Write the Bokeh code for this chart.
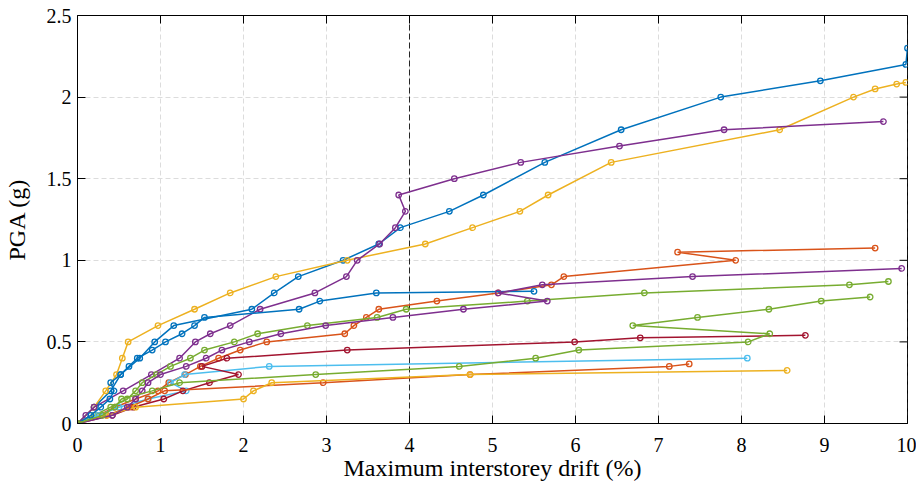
import math
from bokeh.plotting import figure
from bokeh.models import FixedTicker, Span, CustomJSTickFormatter, Range1d
from bokeh.embed import file_html
from bokeh.resources import INLINE

# ---- data (IDA curves: max interstorey drift [%] vs PGA [g]) ----
x_ticks = [0, 1, 2, 3, 4, 5, 6, 7, 8, 9, 10]
y_ticks = [0, 0.5, 1, 1.5, 2, 2.5]
limit_lines = [4, 10]
x_max = 10
y_max = 2.5

blue1_x = [0, 0.2, 0.4, 0.52, 0.75, 0.93, 1.16, 2.1, 2.37, 2.66, 3.2, 3.63, 3.89, 4.48, 4.89, 5.63, 6.55, 7.75, 8.95, 9.98, 10.0]
blue1_y = [0, 0.1, 0.2, 0.3, 0.4, 0.5, 0.6, 0.7, 0.8, 0.9, 1.0, 1.1, 1.2, 1.3, 1.4, 1.6, 1.8, 2.0, 2.1, 2.2, 2.3]

orange1_x = [0, 0.25, 0.45, 0.7, 0.97, 1.1, 1.3, 1.48, 1.7, 1.96, 2.28, 3.22, 3.33, 3.48, 3.63, 4.33, 5.07, 5.71, 5.86, 7.93, 7.23, 9.61]
orange1_y = [0, 0.05, 0.1, 0.15, 0.2, 0.25, 0.3, 0.35, 0.4, 0.45, 0.5, 0.55, 0.6, 0.65, 0.7, 0.75, 0.8, 0.85, 0.9, 1.0, 1.05, 1.075]

yellow1_x = [0, 0.2, 0.34, 0.47, 0.54, 0.61, 0.97, 1.41, 1.84, 2.39, 3.25, 4.19, 4.76, 5.33, 5.67, 6.43, 8.46, 9.35, 9.61, 9.87, 9.98]
yellow1_y = [0, 0.1, 0.2, 0.3, 0.4, 0.5, 0.6, 0.7, 0.8, 0.9, 1.0, 1.1, 1.2, 1.3, 1.4, 1.6, 1.8, 2.0, 2.05, 2.08, 2.09]

purple1_x = [0, 0.1, 0.2, 0.55, 0.89, 1.23, 1.42, 1.6, 1.84, 2.2, 2.86, 3.24, 3.37, 3.64, 3.83, 3.95, 3.87, 4.54, 5.34, 6.53, 7.79, 9.71]
purple1_y = [0, 0.05, 0.1, 0.2, 0.3, 0.4, 0.5, 0.55, 0.6, 0.7, 0.8, 0.9, 1.0, 1.1, 1.2, 1.3, 1.4, 1.5, 1.6, 1.7, 1.8, 1.85]

green1_x = [0, 0.2, 0.4, 0.6, 0.7, 0.78, 0.95, 1.12, 1.36, 1.53, 1.89, 2.17, 2.77, 3.61, 3.96, 5.42, 6.83, 9.3, 9.77]
green1_y = [0, 0.05, 0.1, 0.15, 0.2, 0.25, 0.3, 0.35, 0.4, 0.45, 0.5, 0.55, 0.6, 0.65, 0.7, 0.75, 0.8, 0.85, 0.87]

lightblue_x = [0, 0.25, 0.5, 0.85, 1.31, 1.12, 1.29, 2.31, 8.07]
lightblue_y = [0, 0.05, 0.1, 0.15, 0.2, 0.25, 0.3, 0.35, 0.4]

darkred_x = [0, 0.42, 0.67, 1.04, 1.27, 1.59, 1.94, 1.5, 1.8, 3.25, 5.99, 6.78, 8.77]
darkred_y = [0, 0.05, 0.1, 0.15, 0.2, 0.25, 0.3, 0.35, 0.4, 0.45, 0.5, 0.525, 0.54]

blue2_x = [0, 0.16, 0.28, 0.39, 0.44, 0.4, 0.52, 0.62, 0.72, 0.9, 1.06, 1.26, 1.41, 1.53, 2.67, 2.92, 3.6, 5.5]
blue2_y = [0, 0.05, 0.1, 0.15, 0.2, 0.25, 0.3, 0.35, 0.4, 0.45, 0.5, 0.55, 0.6, 0.65, 0.7, 0.75, 0.8, 0.81]

orange2_x = [0, 0.35, 0.62, 0.85, 1.05, 2.96, 4.73, 7.13, 7.37]
orange2_y = [0, 0.05, 0.1, 0.15, 0.2, 0.25, 0.3, 0.35, 0.365]

yellow2_x = [0, 0.35, 0.7, 2.0, 2.12, 2.34, 4.73, 8.55]
yellow2_y = [0, 0.05, 0.1, 0.15, 0.2, 0.25, 0.3, 0.325]

purple2_x = [0, 0.42, 0.6, 0.7, 0.78, 0.85, 1.0, 1.31, 1.55, 1.74, 2.07, 2.45, 2.99, 3.8, 4.65, 5.66, 5.07, 5.6, 7.41, 9.93]
purple2_y = [0, 0.05, 0.1, 0.15, 0.2, 0.25, 0.3, 0.35, 0.4, 0.45, 0.5, 0.55, 0.6, 0.65, 0.7, 0.75, 0.8, 0.85, 0.9, 0.95]

green2_x = [0, 0.3, 0.45, 0.53, 0.9, 1.23, 2.87, 4.6, 5.52, 6.04, 8.08, 8.34, 6.69, 7.47, 8.33, 8.96, 9.55]
green2_y = [0, 0.05, 0.1, 0.15, 0.2, 0.25, 0.3, 0.35, 0.4, 0.45, 0.5, 0.55, 0.6, 0.65, 0.7, 0.75, 0.775]

series = [
    (blue1_x, blue1_y, "#0072BD"),
    (orange1_x, orange1_y, "#D95319"),
    (yellow1_x, yellow1_y, "#EDB120"),
    (purple1_x, purple1_y, "#7E2F8E"),
    (green1_x, green1_y, "#77AC30"),
    (lightblue_x, lightblue_y, "#4DBEEE"),
    (darkred_x, darkred_y, "#A2142F"),
    (blue2_x, blue2_y, "#0072BD"),
    (orange2_x, orange2_y, "#D95319"),
    (yellow2_x, yellow2_y, "#EDB120"),
    (purple2_x, purple2_y, "#7E2F8E"),
    (green2_x, green2_y, "#77AC30"),
]

FONT = "Liberation Serif"

p = figure(width=916, height=483,
           x_range=Range1d(0, x_max), y_range=Range1d(0, y_max),
           output_backend="svg", toolbar_location=None,
           min_border_left=77, min_border_right=9, min_border_top=15, min_border_bottom=59)

p.background_fill_color = "white"
p.outline_line_color = "black"
p.outline_line_width = 1

xt = FixedTicker(ticks=x_ticks)
yt = FixedTicker(ticks=y_ticks)
fmt = CustomJSTickFormatter(code="return String(tick);")

p.xaxis.ticker = xt
p.yaxis.ticker = yt
p.xaxis.formatter = fmt
p.yaxis.formatter = fmt
p.xgrid.ticker = xt
p.ygrid.ticker = yt
for g in (p.xgrid, p.ygrid):
    g.grid_line_color = "#dcdcdc"
    g.grid_line_dash = "5 3"
    g.grid_line_width = 1

for ax in (p.xaxis[0], p.yaxis[0]):
    ax.major_tick_in = 8
    ax.major_tick_out = 0
    ax.minor_tick_line_color = None
    ax.axis_line_color = "black"
    ax.major_tick_line_color = "black"
    ax.major_label_text_font = FONT
    ax.major_label_text_font_size = "20px"
    ax.major_label_text_color = "black"
    ax.axis_label_text_font = FONT
    ax.axis_label_text_font_size = "24px"
    ax.axis_label_text_font_style = "normal"
    ax.axis_label_text_color = "black"

p.xaxis.axis_label = "Maximum interstorey drift (%)"
p.yaxis.axis_label = "PGA (g)"
p.xaxis.major_label_standoff = 14
p.yaxis.major_label_standoff = 6
p.xaxis.axis_label_standoff = 0
p.yaxis.axis_label_standoff = 14

# mirrored inward ticks on the top and right edges of the box
p.ray(x=x_ticks, y=[y_max] * len(x_ticks), length=8, length_units="screen",
      angle=-math.pi / 2, line_color="black", line_width=1)
p.ray(x=[x_max] * len(y_ticks), y=y_ticks, length=8, length_units="screen",
      angle=math.pi, line_color="black", line_width=1)

for loc in limit_lines:
    p.add_layout(Span(location=loc, dimension="height", line_color="#262626",
                      line_dash="6 3", line_width=1, level="underlay"))

for xs, ys, c in series:
    p.line(xs, ys, line_color=c, line_width=1.5)
    p.scatter(xs, ys, marker="circle", size=5.5, fill_color=None, line_color=c, line_width=1.3)

open("out.html", "w").write(file_html(p, INLINE))
